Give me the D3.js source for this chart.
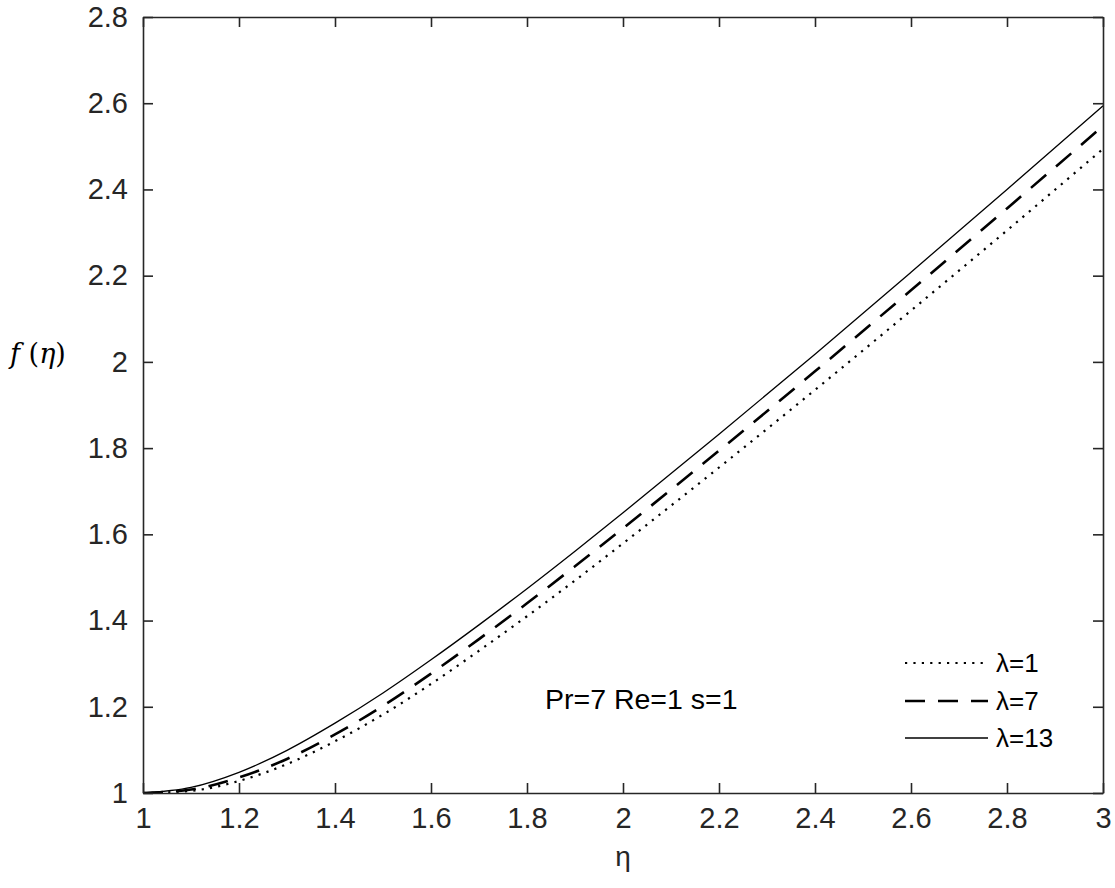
<!DOCTYPE html>
<html>
<head>
<meta charset="utf-8">
<script src="https://cdn.jsdelivr.net/npm/d3@7"></script>
<style>
  html, body { margin: 0; padding: 0; background: #fff; }
  svg { display: block; }
  text { font-family: "Liberation Sans", Arial, Helvetica, sans-serif; fill: #262626; }
</style>
</head>
<body>
<svg id="chart" width="1115" height="888"></svg>
<script>
// η grid and similarity solution f(η) for three values of λ
const eta = [1.0, 1.1, 1.2, 1.3, 1.4, 1.5, 1.6, 1.7, 1.8, 1.9, 2.0, 2.2, 2.4, 2.6, 2.8, 3.0];
const fLambda1  = [1.000, 1.005, 1.028, 1.067, 1.120, 1.182, 1.253, 1.330, 1.410, 1.493, 1.579, 1.755, 1.935, 2.119, 2.305, 2.494];
const fLambda7  = [1.000, 1.008, 1.036, 1.079, 1.136, 1.202, 1.277, 1.357, 1.440, 1.526, 1.614, 1.794, 1.978, 2.166, 2.356, 2.547];
const fLambda13 = [1.000, 1.013, 1.048, 1.099, 1.162, 1.232, 1.309, 1.390, 1.474, 1.561, 1.650, 1.832, 2.018, 2.208, 2.400, 2.594];

const seriesNames = ["λ=1", "λ=7", "λ=13"];
const xTicks = [1, 1.2, 1.4, 1.6, 1.8, 2, 2.2, 2.4, 2.6, 2.8, 3];
const yTicks = [1, 1.2, 1.4, 1.6, 1.8, 2, 2.2, 2.4, 2.6, 2.8];
const annotation = "Pr=7 Re=1 s=1";

const series = [
  { name: seriesNames[0], values: fLambda1,  width: 2.2, dash: "2.2,6.2" },
  { name: seriesNames[1], values: fLambda7,  width: 2.6, dash: "20,13" },
  { name: seriesNames[2], values: fLambda13, width: 1.3, dash: null }
];

const svg = d3.select("#chart");
const plot = { left: 143, right: 1103, top: 17, bottom: 793 };
const axisColor = "#262626";

const x = d3.scaleLinear().domain([1, 3]).range([plot.left, plot.right]);
const y = d3.scaleLinear().domain([1, 2.8]).range([plot.bottom, plot.top]);

const fmt = d => d3.format("")(+d.toFixed(1));

// curves
const line = d3.line()
  .x((d, i) => x(eta[i]))
  .y(d => y(d))
  .curve(d3.curveMonotoneX);

svg.append("clipPath").attr("id", "plotclip")
  .append("rect")
  .attr("x", plot.left).attr("y", plot.top)
  .attr("width", plot.right - plot.left).attr("height", plot.bottom - plot.top);

const curves = svg.append("g").attr("clip-path", "url(#plotclip)");
series.forEach(s => {
  curves.append("path")
    .datum(s.values)
    .attr("d", line)
    .attr("fill", "none")
    .attr("stroke", "#000")
    .attr("stroke-width", s.width)
    .attr("stroke-dasharray", s.dash);
});

// axes: ticks drawn inward on all four sides (box style)
const tickLen = 10;
const axisBottom = d3.axisBottom(x).tickValues(xTicks).tickSizeInner(-tickLen).tickSizeOuter(0).tickPadding(14).tickFormat(fmt);
const axisTop = d3.axisTop(x).tickValues(xTicks).tickSizeInner(-tickLen).tickSizeOuter(0).tickFormat("");
const axisLeft = d3.axisLeft(y).tickValues(yTicks).tickSizeInner(-tickLen).tickSizeOuter(0).tickPadding(15).tickFormat(fmt);
const axisRight = d3.axisRight(y).tickValues(yTicks).tickSizeInner(-tickLen).tickSizeOuter(0).tickFormat("");

function styleAxis(g) {
  g.selectAll(".domain").attr("stroke", axisColor).attr("stroke-width", 1.6);
  g.selectAll(".tick line").attr("stroke", axisColor).attr("stroke-width", 1.6);
  g.selectAll(".tick text")
    .attr("fill", axisColor)
    .style("font-family", "'Liberation Sans', Arial, sans-serif")
    .style("font-size", "29px");
}

svg.append("g").attr("transform", `translate(0,${plot.bottom})`).call(axisBottom).call(styleAxis);
svg.append("g").attr("transform", `translate(0,${plot.top})`).call(axisTop).call(styleAxis);
svg.append("g").attr("transform", `translate(${plot.left},0)`).call(axisLeft).call(styleAxis);
svg.append("g").attr("transform", `translate(${plot.right},0)`).call(axisRight).call(styleAxis);

// axis titles
svg.append("text")
  .attr("x", (plot.left + plot.right) / 2)
  .attr("y", 866)
  .attr("text-anchor", "middle")
  .style("font-size", "28px")
  .text("η");

const yTitle = svg.append("text")
  .attr("x", 10)
  .attr("y", 363)
  .style("font-family", "'DejaVu Serif', 'Liberation Serif', serif")
  .style("font-size", "27px")
  .style("fill", "#000");
yTitle.append("tspan").style("font-style", "italic").text("f");
yTitle.append("tspan").text(" (");
yTitle.append("tspan").style("font-style", "italic").text("η");
yTitle.append("tspan").text(")");

// parameter annotation
svg.append("text")
  .attr("x", 545)
  .attr("y", 709)
  .style("font-size", "28.5px")
  .style("fill", "#000")
  .text(annotation);

// legend
const legend = svg.append("g");
const legendRows = [663, 701, 738];
series.forEach((s, i) => {
  const row = legend.append("g").attr("transform", `translate(0,${legendRows[i]})`);
  row.append("line")
    .attr("x1", 905).attr("x2", 988)
    .attr("y1", 0).attr("y2", 0)
    .attr("stroke", "#000")
    .attr("stroke-width", s.width)
    .attr("stroke-dasharray", s.dash);
  row.append("text")
    .attr("x", 996)
    .attr("y", 0)
    .attr("dy", "0.35em")
    .style("font-size", "26px")
    .style("fill", "#000")
    .text(s.name);
});
</script>
</body>
</html>
